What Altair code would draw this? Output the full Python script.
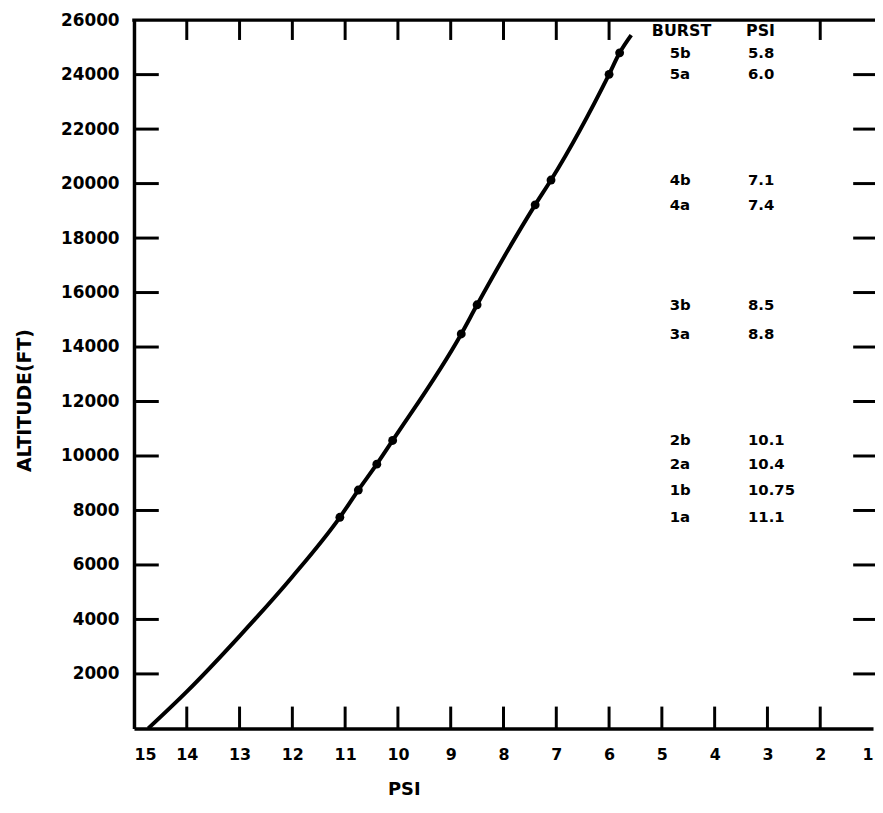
import altair as alt
import pandas as pd

# ---- data ----
curve_psi = [14.73, 14.0, 13.0, 12.0, 11.1, 10.75, 10.4, 10.1, 8.8, 8.5, 7.4, 7.1, 6.0, 5.8, 5.58]
curve_alt = [0, 1350, 3390, 5570, 7750, 8750, 9700, 10570, 14480, 15550, 19220, 20130, 24010, 24800, 25450]

burst_names = ["5b", "5a", "4b", "4a", "3b", "3a", "2b", "2a", "1b", "1a"]
burst_psi = [5.8, 6.0, 7.1, 7.4, 8.5, 8.8, 10.1, 10.4, 10.75, 11.1]
burst_psi_text = ["5.8", "6.0", "7.1", "7.4", "8.5", "8.8", "10.1", "10.4", "10.75", "11.1"]
burst_alt = [24800, 24010, 20130, 19220, 15550, 14480, 10570, 9700, 8750, 7750]

x_tick_labels = [15, 14, 13, 12, 11, 10, 9, 8, 7, 6, 5, 4, 3, 2, 1]
y_tick_labels = [2000, 4000, 6000, 8000, 10000, 12000, 14000, 16000, 18000, 20000, 22000, 24000, 26000]
bottom_tick_psi = [14, 13, 12, 11, 10, 9, 8, 7, 6, 5, 4, 3, 2]
top_tick_psi = [14, 13, 12, 11, 10, 9, 8, 7, 6, 2]
side_tick_alt = [2000, 4000, 6000, 8000, 10000, 12000, 14000, 16000, 18000, 20000, 22000, 24000]

header_burst = ["BURST"]
header_psi = ["PSI"]

# ---- layout ----
W, H = 745, 714
FONT = "DejaVu Sans"
xs = alt.Scale(domain=[15, 1], nice=False, zero=False)
ys = alt.Scale(domain=[0, 26000], nice=False, zero=False)

curve_df = pd.DataFrame({"psi": curve_psi, "alt": curve_alt})
burst_df = pd.DataFrame({"name": burst_names, "psi": burst_psi, "psitxt": burst_psi_text, "alt": burst_alt})

x_axis = alt.Axis(
    values=x_tick_labels, format="d", title="PSI", grid=False, ticks=False, tickSize=0,
    labelFont=FONT, labelFontSize=16, labelFontWeight="bold", labelColor="black",
    labelPadding=18, labelFlush=True, labelOverlap=False,
    domain=True, domainColor="black", domainWidth=3.5,
    titleFont=FONT, titleFontSize=18, titleFontWeight="bold", titleColor="black",
    titleX=272, titleY=62, titleAlign="center", titleBaseline="middle",
)
y_axis = alt.Axis(
    values=y_tick_labels, format="d", title="ALTITUDE(FT)", grid=False, ticks=False, tickSize=0,
    labelFont=FONT, labelFontSize=17, labelFontWeight="bold", labelColor="black",
    labelPadding=15, labelFlush=False, labelOverlap=False, labelBaseline="middle",
    domain=True, domainColor="black", domainWidth=3.5,
    titleFont=FONT, titleFontSize=19, titleFontWeight="bold", titleColor="black",
    titleAngle=270, titleX=-110, titleY=383, titleAlign="center", titleBaseline="middle",
)

curve = alt.Chart(curve_df).mark_line(color="black", strokeWidth=4, interpolate="monotone").encode(
    x=alt.X("psi:Q", scale=xs, axis=x_axis),
    y=alt.Y("alt:Q", scale=ys, axis=y_axis),
    order=alt.Order("alt:Q"),
)

dots = alt.Chart(burst_df).mark_circle(color="black", size=80, opacity=1).encode(
    x=alt.X("psi:Q", scale=xs),
    y=alt.Y("alt:Q", scale=ys),
)

txt_style = dict(align="left", baseline="middle", font=FONT, fontSize=15, fontWeight="bold", color="black")

burst_labels = alt.Chart(burst_df).mark_text(**txt_style).encode(
    x=alt.value(540),
    y=alt.Y("alt:Q", scale=ys),
    text="name:N",
)

psi_labels = alt.Chart(burst_df).mark_text(**txt_style).encode(
    x=alt.value(619),
    y=alt.Y("alt:Q", scale=ys),
    text="psitxt:N",
)

hdr_style = dict(align="left", baseline="middle", font=FONT, fontSize=16, fontWeight="bold", color="black")
hdr1 = alt.Chart(pd.DataFrame({"t": header_burst})).mark_text(**hdr_style).encode(
    x=alt.value(522), y=alt.value(11), text="t:N")
hdr2 = alt.Chart(pd.DataFrame({"t": header_psi})).mark_text(**hdr_style).encode(
    x=alt.value(617), y=alt.value(11), text="t:N")

top_border = alt.Chart(pd.DataFrame({"a": [0]})).mark_rule(
    color="black", strokeWidth=3.5, strokeCap="square"
).encode(x=alt.value(0), x2=alt.value(W + 5), y=alt.value(0))

bottom_ticks = alt.Chart(pd.DataFrame({"psi": bottom_tick_psi})).mark_rule(color="black", strokeWidth=3).encode(
    x=alt.X("psi:Q", scale=xs), y=alt.value(H), y2=alt.value(H - 22)
)
top_ticks = alt.Chart(pd.DataFrame({"psi": top_tick_psi})).mark_rule(color="black", strokeWidth=3).encode(
    x=alt.X("psi:Q", scale=xs), y=alt.value(0), y2=alt.value(20)
)
left_ticks = alt.Chart(pd.DataFrame({"alt": side_tick_alt})).mark_rule(color="black", strokeWidth=3).encode(
    y=alt.Y("alt:Q", scale=ys), x=alt.value(0), x2=alt.value(25)
)
right_ticks = alt.Chart(pd.DataFrame({"alt": side_tick_alt})).mark_rule(color="black", strokeWidth=3).encode(
    y=alt.Y("alt:Q", scale=ys), x=alt.value(W - 20), x2=alt.value(W + 5)
)

chart = alt.layer(
    curve, dots, burst_labels, psi_labels, hdr1, hdr2,
    top_border, bottom_ticks, top_ticks, left_ticks, right_ticks,
).properties(
    width=W, height=H,
    padding={"left": 127, "top": 9, "right": 2, "bottom": 76},
    autosize=alt.AutoSizeParams(type="none"),
    background="white",
).configure_view(stroke=None)

chart.save("out.html", embed_options={"renderer": "svg", "actions": False})
